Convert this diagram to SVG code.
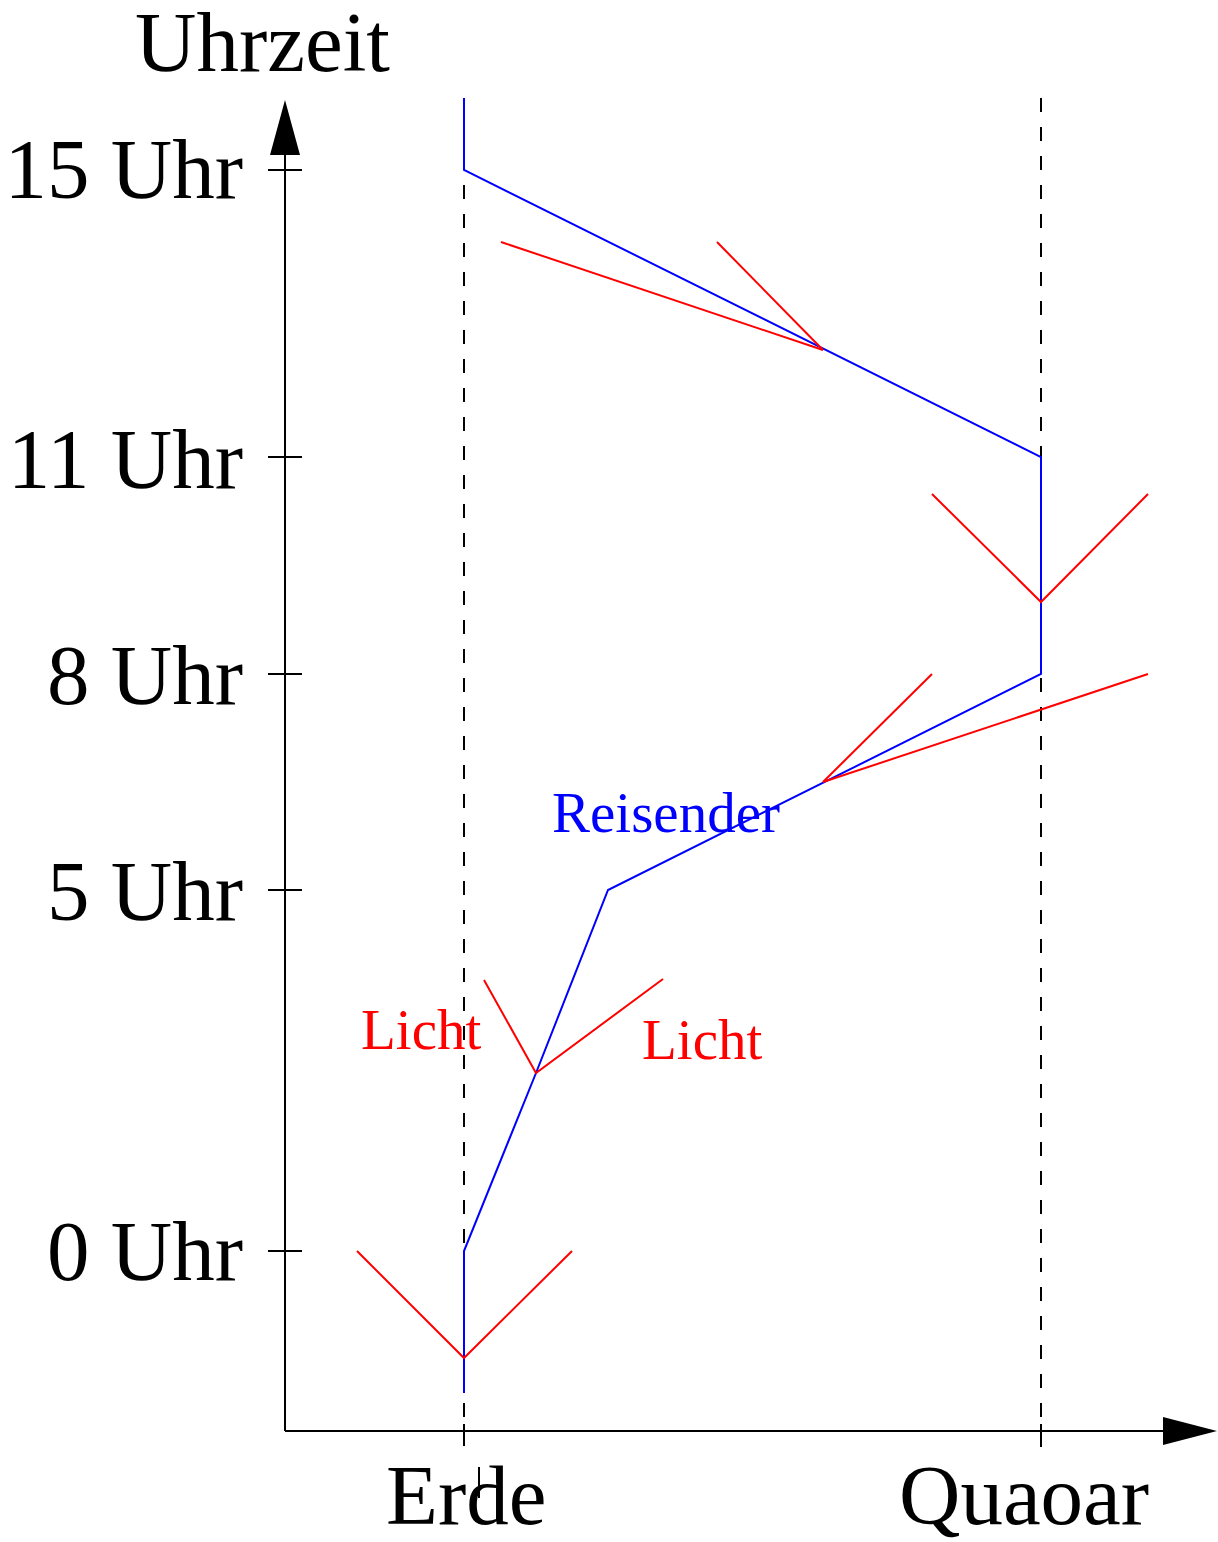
<svg xmlns="http://www.w3.org/2000/svg" width="1218" height="1542" viewBox="0 0 1218 1542">
<style>
.ax{stroke:#000;stroke-width:2;fill:none}
.dash{stroke:#000;stroke-width:2;fill:none;stroke-dasharray:14 15}
.blue{stroke:#0000ff;stroke-width:2;fill:none;stroke-linejoin:miter}
.red{stroke:#ff0000;stroke-width:2;fill:none}
text{font-family:"Liberation Serif","Times New Roman",serif}
.big{font-size:85px;fill:#000}
.lbl{font-size:57px}
</style>
<rect width="1218" height="1542" fill="#fff"/>
<g id="axes">
<line class="ax" x1="285" y1="1431" x2="285" y2="150"/>
<polygon points="285,100 270,155 300,155" fill="#000"/>
<line class="ax" x1="285" y1="1431" x2="1168" y2="1431"/>
<polygon points="1217,1431 1163,1417 1163,1445" fill="#000"/>
<line class="ax" x1="268" y1="170" x2="302" y2="170"/>
<line class="ax" x1="268" y1="457" x2="302" y2="457"/>
<line class="ax" x1="268" y1="674" x2="302" y2="674"/>
<line class="ax" x1="268" y1="890" x2="302" y2="890"/>
<line class="ax" x1="268" y1="1251" x2="302" y2="1251"/>
<line class="ax" x1="464" y1="1424" x2="464" y2="1438"/>
<line class="ax" x1="1041" y1="1424" x2="1041" y2="1447"/>
<line class="ax" x1="479" y1="1467" x2="479" y2="1498"/>
</g>
<g id="connectors">
<line class="dash" x1="464" y1="98" x2="464" y2="1447"/>
<line class="dash" x1="1041" y1="98" x2="1041" y2="1447"/>
<polyline class="blue" points="464,98 464,170 1041,457 1041,674 608,890 536,1073 464,1251 464,1393"/>
<polyline class="red" points="501,242 823,350"/>
<polyline class="red" points="717,242 823,350"/>
<polyline class="red" points="932,494 1041,602 1148,494"/>
<polyline class="red" points="823,782 1148,674"/>
<polyline class="red" points="823,782 932,674"/>
<polyline class="red" points="484,980 536,1073 663,979"/>
<polyline class="red" points="357,1251 464,1358 572,1251"/>
</g>
<g id="labels">
<text class="big" x="135" y="71">Uhrzeit</text>
<text class="big" x="243" y="198" text-anchor="end">15 Uhr</text>
<text class="big" x="243" y="488" text-anchor="end">11 Uhr</text>
<text class="big" x="243" y="704" text-anchor="end">8 Uhr</text>
<text class="big" x="243" y="920" text-anchor="end">5 Uhr</text>
<text class="big" x="243" y="1280" text-anchor="end">0 Uhr</text>
<text class="big" x="386" y="1524">Erde</text>
<text class="big" x="899" y="1524">Quaoar</text>
<text class="lbl" x="552" y="832" fill="#0000ff">Reisender</text>
<text class="lbl" x="361" y="1049" fill="#ff0000">Licht</text>
<text class="lbl" x="642" y="1059" fill="#ff0000">Licht</text>
</g>
</svg>
